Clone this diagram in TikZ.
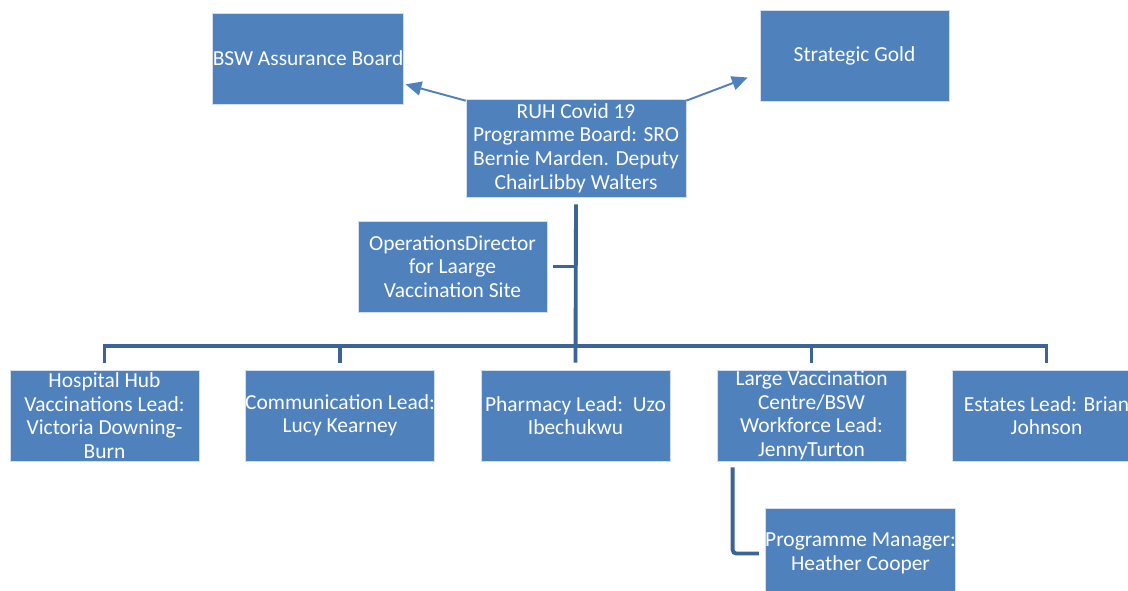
\documentclass[tikz,border=0pt]{standalone}
\usepackage{fontspec}
\setmainfont{Carlito}
\usetikzlibrary{arrows.meta, calc, positioning}
\definecolor{boxblue}{RGB}{79,129,189}
\definecolor{linkblue}{RGB}{60,100,150}

\begin{document}
\begin{tikzpicture}[x=0.02cm, y=-0.02cm,
    orgbox/.style={fill=boxblue, draw=white!75!boxblue, line width=0.4pt, text=white,
        minimum width=3.78cm, minimum height=1.82cm, inner sep=0pt, align=center,
        font=\fontsize{12.2}{13.4}\selectfont},
    tree/.style={linkblue, line width=2.2pt},
    arr/.style={boxblue, line width=1.1pt, -{Triangle[length=9pt, width=8pt]}}]
    \useasboundingbox (0,0) rectangle (1128,591);

    % Boards at the top
    \node[orgbox] (bsw) at (308,58.5) {BSW Assurance Board};
    \node[orgbox] (gold) at (854.5,55.5) {Strategic Gold};
    \node[orgbox, minimum width=4.4cm, minimum height=1.96cm] (ruh) at (576,148)
        {RUH Covid 19\\Programme Board: SRO\\Bernie Marden. Deputy\\ChairLibby Walters};
    \node[orgbox] (ops) at (452.5,266.5) {OperationsDirector\\for Laarge\\Vaccination Site};

    % Leads
    \node[orgbox] (hub) at (104.5,415.5) {Hospital Hub\\Vaccinations Lead:\\Victoria Downing-\\Burn};
    \node[orgbox] (comms) at (340,415.5) {Communication Lead:\\Lucy Kearney};
    \node[orgbox] (pharm) at (575.5,415.5) {Pharmacy Lead:\ \ Uzo\\Ibechukwu};
    \node[orgbox] (lvc) at (811.5,415.5) {Large Vaccination\\Centre/BSW\\Workforce Lead:\\JennyTurton};
    \node[orgbox] (estates) at (1046.5,415.5) {Estates Lead: Brian\\Johnson};
    \node[orgbox] (pm) at (860.5,553.5) {Programme Manager:\\Heather Cooper};

    % Reporting arrows
    \draw[arr] ($(ruh.north west)+(0,2)$) -- ($(bsw.south east)+(2,-20)$);
    \draw[arr] ($(ruh.north east)+(0,2)$) -- ($(gold.west)+(-12,22)$);

    % Tree
    \coordinate (bus) at (0,346);
    \draw[tree] ($(ruh.south)+(0,7)$) -- ($(pharm.north)+(0,-7)$);
    \draw[tree] ($(ops.east)+(6,0)$) -- (ops.east -| ruh.south);
    \draw[tree] ($(hub.north)+(0,-7)$) |- (bus -| estates.north) -- ($(estates.north)+(0,-7)$);
    \draw[tree] (bus -| comms.north) -- ($(comms.north)+(0,-7)$);
    \draw[tree] (bus -| lvc.north) -- ($(lvc.north)+(0,-7)$);
    \draw[tree, rounded corners=2] ($(lvc.south west)+(16,6)$) |- ($(pm.west)+(-6,0)$);
\end{tikzpicture}
\end{document}
